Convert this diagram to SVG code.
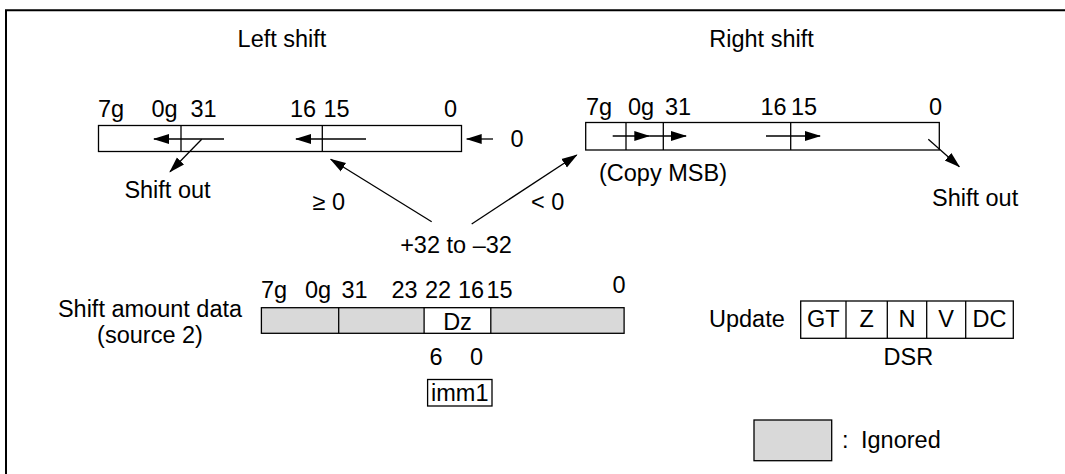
<svg xmlns="http://www.w3.org/2000/svg" width="1065" height="474" viewBox="0 0 1065 474">
<style>
text{font-family:"Liberation Sans",Arial,sans-serif;font-size:23.5px;fill:#000}
.c{text-anchor:middle}
.box{fill:#fff;stroke:#000;stroke-width:1.3}
.g{fill:#d9d9d9;stroke:#000;stroke-width:1.3}
.ln{stroke:#000;stroke-width:1.3;fill:none}
.ar{stroke:#000;stroke-width:1.3;fill:none;marker-end:url(#ah)}
</style>
<defs>
<marker id="ah" markerUnits="userSpaceOnUse" markerWidth="16" markerHeight="12" viewBox="0 0 16 12" refX="15" refY="6" orient="auto">
<path d="M0,1 L16,6 L0,11 z" fill="#000"/>
</marker>
</defs>
<rect x="0" y="0" width="1065" height="474" fill="#fff"/>
<path d="M6,476 V10.3 H1068" fill="none" stroke="#000" stroke-width="2"/>

<g id="left-shift">
<text class="c" x="282" y="47">Left shift</text>
<rect class="box" x="98.5" y="125.5" width="363" height="26"/>
<line class="ln" x1="181" y1="125.5" x2="181" y2="151.5"/>
<line class="ln" x1="322.3" y1="125.5" x2="322.3" y2="151.5"/>
<text x="98" y="117">7g</text>
<text x="151.5" y="117">0g</text>
<text x="190.5" y="117">31</text>
<text x="290" y="117">16</text>
<text x="323.5" y="117">15</text>
<text x="444" y="117">0</text>
<text x="510.5" y="147">0</text>
<text class="c" x="167.5" y="198">Shift out</text>
</g>

<g id="right-shift">
<text class="c" x="761.5" y="47">Right shift</text>
<rect class="box" x="585.7" y="122.5" width="353.6" height="27.5"/>
<line class="ln" x1="626" y1="122.5" x2="626" y2="150"/>
<line class="ln" x1="663.3" y1="122.5" x2="663.3" y2="150"/>
<line class="ln" x1="790.7" y1="122.5" x2="790.7" y2="150"/>
<text x="586" y="115">7g</text>
<text x="628" y="115">0g</text>
<text x="665" y="115">31</text>
<text x="760.5" y="115">16</text>
<text x="791" y="115">15</text>
<text x="929" y="115">0</text>
<text x="599" y="181">(Copy MSB)</text>
<text x="932" y="206">Shift out</text>
</g>

<g id="shift-amount">
<text class="c" x="456" y="253">+32 to –32</text>
<text x="312.5" y="210">≥ 0</text>
<text x="531" y="210">&lt; 0</text>
</g>

<g id="source2">
<text class="c" x="150" y="317">Shift amount data</text>
<text class="c" x="150" y="343">(source 2)</text>
<rect class="g" x="261.4" y="307.7" width="362.7" height="25.6"/>
<rect x="424.1" y="307.7" width="66.7" height="25.6" fill="#fff" stroke="#000" stroke-width="1.3"/>
<line class="ln" x1="338.7" y1="307.7" x2="338.7" y2="333.3"/>
<text x="261" y="298">7g</text>
<text x="305" y="298">0g</text>
<text x="341.5" y="298">31</text>
<text x="391.5" y="298">23</text>
<text x="425" y="298">22</text>
<text x="458" y="298">16</text>
<text x="486.5" y="298">15</text>
<text x="612.5" y="293">0</text>
<text class="c" x="457.5" y="330">Dz</text>
<text x="429.5" y="365">6</text>
<text x="470" y="365">0</text>
<rect class="box" x="427.6" y="379.5" width="64.4" height="26.5"/>
<text class="c" x="459.8" y="401">imm1</text>
</g>

<g id="dsr">
<text x="709" y="326.7">Update</text>
<rect class="box" x="800.7" y="301" width="212.6" height="37.3"/>
<line class="ln" x1="846" y1="301" x2="846" y2="338.3"/>
<line class="ln" x1="887.3" y1="301" x2="887.3" y2="338.3"/>
<line class="ln" x1="926.7" y1="301" x2="926.7" y2="338.3"/>
<line class="ln" x1="965.7" y1="301" x2="965.7" y2="338.3"/>
<text class="c" x="823.3" y="326.7">GT</text>
<text class="c" x="866.7" y="326.7">Z</text>
<text class="c" x="907" y="326.7">N</text>
<text class="c" x="946.2" y="326.7">V</text>
<text class="c" x="989.5" y="326.7">DC</text>
<text class="c" x="908.3" y="365">DSR</text>
</g>

<g id="legend">
<rect class="g" x="754" y="420" width="77.7" height="40.7"/>
<text x="842" y="448">:</text>
<text x="861" y="448">Ignored</text>
</g>

<g id="connectors">
<line class="ar" x1="224" y1="139" x2="154" y2="139"/>
<line class="ar" x1="366" y1="139" x2="296" y2="139"/>
<line class="ar" x1="493" y1="139" x2="466.7" y2="139"/>
<line class="ar" x1="201.7" y1="139.3" x2="170" y2="171.7"/>
<line class="ar" x1="612.7" y1="136" x2="649.3" y2="136"/>
<line class="ar" x1="649.3" y1="136" x2="686" y2="136"/>
<line class="ar" x1="766" y1="136" x2="820" y2="136"/>
<line class="ar" x1="928.3" y1="139.3" x2="959.3" y2="166.7"/>
<line class="ar" x1="431.7" y1="221.7" x2="330.7" y2="159.3"/>
<line class="ar" x1="471.7" y1="224" x2="576.7" y2="155"/>
</g>
</svg>
